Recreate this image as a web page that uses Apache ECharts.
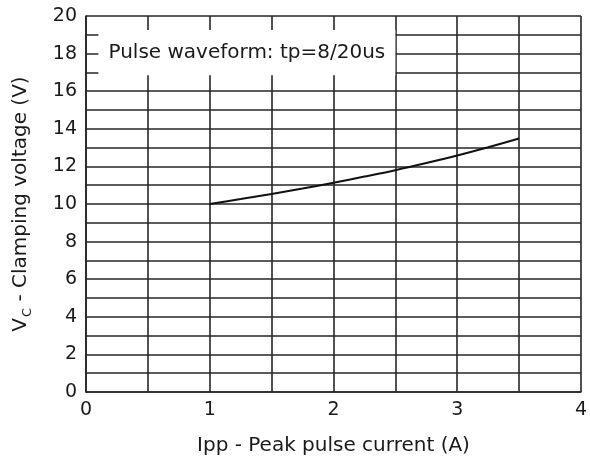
<!DOCTYPE html>
<html>
<head>
<meta charset="utf-8">
<script src="https://cdn.jsdelivr.net/npm/echarts@6/dist/echarts.min.js"></script>
<style>
html,body{margin:0;padding:0;background:#fff;}
#chart{width:590px;height:463px;}
</style>
</head>
<body>
<div id="chart"></div>
<script>
// Data
var ippValues = [1, 1.25, 1.5, 1.75, 2, 2.25, 2.5, 2.75, 3, 3.25, 3.5];
var vcValues = [10.0, 10.26, 10.53, 10.82, 11.13, 11.46, 11.8, 12.18, 12.58, 13.02, 13.48];
var xTickLabels = [0, 1, 2, 3, 4];
var yTickLabels = [0, 2, 4, 6, 8, 10, 12, 14, 16, 18, 20];
var noteText = 'Pulse waveform: tp=8/20us';
var noteBox = [[0.1, 16.85], [2.5, 19.25]];

var FONT = 'DejaVu Sans';
var GRIDC = '#262626';

var seriesData = ippValues.map(function (x, i) { return [x, vcValues[i]]; });

var chart = echarts.init(document.getElementById('chart'), null, {renderer: 'canvas'});
chart.setOption({
  animation: false,
  backgroundColor: '#fff',
  grid: {left: 86, right: 4, top: 16, bottom: 71, containLabel: false},
  xAxis: {
    type: 'value', min: 0, max: 4, interval: 0.5,
    name: 'Ipp - Peak pulse current (A)',
    nameLocation: 'middle', nameGap: 44,
    nameTextStyle: {fontFamily: FONT, fontSize: 20, color: '#1a1a1a'},
    axisLine: {show: true, lineStyle: {color: GRIDC, width: 1.6}},
    axisTick: {show: false},
    splitLine: {show: true, lineStyle: {color: GRIDC, width: 1.6}},
    axisLabel: {
      fontFamily: FONT, fontSize: 19, color: '#1a1a1a', margin: 9,
      formatter: function (v) { return xTickLabels.indexOf(v) >= 0 ? String(v) : ''; }
    }
  },
  yAxis: {
    type: 'value', min: 0, max: 20, interval: 1,
    name: '{v|V}{s|C}{v| - Clamping voltage (V)}',
    nameLocation: 'middle', nameGap: 55, nameRotate: 90,
    nameTextStyle: {
      fontFamily: FONT, fontSize: 20, color: '#1a1a1a',
      rich: {
        v: {fontFamily: FONT, fontSize: 20, color: '#1a1a1a', lineHeight: 26, verticalAlign: 'bottom'},
        s: {fontFamily: FONT, fontSize: 13, color: '#1a1a1a', lineHeight: 26, verticalAlign: 'bottom', padding: [0, 0, -3, 1]}
      }
    },
    axisLine: {show: true, lineStyle: {color: GRIDC, width: 1.6}},
    axisTick: {show: false},
    splitLine: {show: true, lineStyle: {color: GRIDC, width: 1.6}},
    axisLabel: {
      fontFamily: FONT, fontSize: 19, color: '#1a1a1a', margin: 9,
      formatter: function (v) { return yTickLabels.indexOf(v) >= 0 ? String(v) : ''; }
    }
  },
  series: [{
    type: 'line',
    data: seriesData,
    smooth: 0.3,
    symbol: 'none',
    lineStyle: {color: '#111', width: 2},
    markArea: {
      silent: true,
      itemStyle: {color: '#fff', opacity: 1, borderWidth: 0},
      label: {
        show: true, position: 'inside',
        fontFamily: FONT, fontSize: 20, color: '#1a1a1a'
      },
      data: [[{name: noteText, coord: noteBox[0]}, {coord: noteBox[1]}]]
    }
  }]
});
</script>
</body>
</html>
